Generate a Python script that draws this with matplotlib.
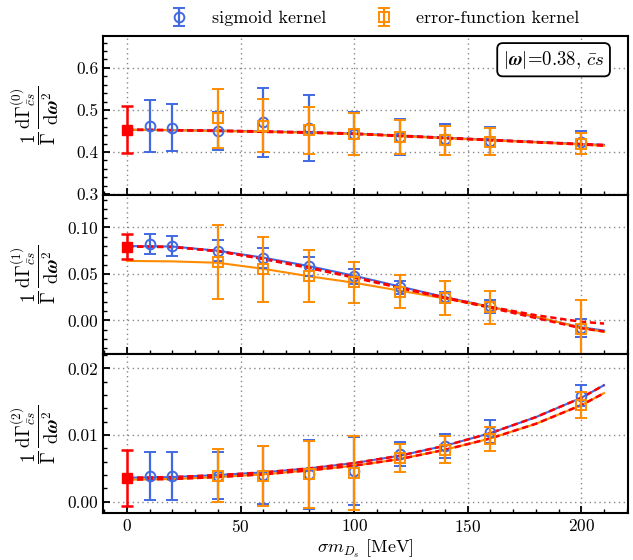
import numpy as np
import matplotlib
matplotlib.use("Agg")
import matplotlib.pyplot as plt
from matplotlib.ticker import MultipleLocator, FormatStrFormatter

plt.rcParams['font.family'] = 'serif'
plt.rcParams['font.serif'] = ['cmr10', 'DejaVu Serif']
plt.rcParams['mathtext.fontset'] = 'cm'
plt.rcParams['axes.formatter.use_mathtext'] = True
plt.rcParams['font.size'] = 12

# x positions
x_sig = [10, 20, 40, 60, 80, 100, 120, 140, 160, 200]
x_erf = [40, 60, 80, 100, 120, 140, 160, 200]
x_line = [0, 20, 40, 60, 80, 100, 120, 140, 160, 180, 200, 210]

# panel 0
sig0 = [0.462, 0.458, 0.451, 0.471, 0.457, 0.444, 0.436, 0.430, 0.427, 0.423]
sig0_err = [0.061, 0.056, 0.045, 0.082, 0.078, 0.050, 0.043, 0.037, 0.033, 0.028]
erf0 = [0.480, 0.463, 0.452, 0.442, 0.435, 0.428, 0.425, 0.420]
erf0_err = [0.070, 0.062, 0.056, 0.050, 0.040, 0.035, 0.032, 0.025]
ext0, ext0_err = 0.453, 0.056
sig0_line = [0.453, 0.452, 0.451, 0.449, 0.447, 0.444, 0.439, 0.434, 0.429, 0.424, 0.419, 0.417]
erf0_line = [0.453, 0.452, 0.450, 0.448, 0.446, 0.443, 0.438, 0.433, 0.428, 0.423, 0.418, 0.415]
red0_a = sig0_line
red0_b = erf0_line

# panel 1
sig1 = [0.082, 0.080, 0.075, 0.067, 0.058, 0.0475, 0.0357, 0.025, 0.015, -0.008]
sig1_err = [0.011, 0.011, 0.011, 0.0105, 0.010, 0.008, 0.007, 0.006, 0.007, 0.0095]
erf1 = [0.063, 0.055, 0.048, 0.041, 0.031, 0.024, 0.014, -0.009]
erf1_err = [0.040, 0.035, 0.028, 0.022, 0.018, 0.018, 0.018, 0.031]
ext1, ext1_err = 0.0793, 0.0135
sig1_line = [0.0800, 0.0795, 0.0750, 0.0675, 0.0585, 0.0480, 0.0365, 0.0250, 0.0145, 0.0035, -0.0075, -0.0110]
erf1_line = [0.0640, 0.0635, 0.0620, 0.0555, 0.0475, 0.0405, 0.0320, 0.0235, 0.0145, 0.0040, -0.0080, -0.0125]
red1_a = [0.0795, 0.0790, 0.0745, 0.0665, 0.0570, 0.0465, 0.0355, 0.0245, 0.0145, 0.0055, -0.0015, -0.0035]
red1_b = [0.0795, 0.0790, 0.0745, 0.0660, 0.0565, 0.0460, 0.0350, 0.0240, 0.0135, 0.0025, -0.0085, -0.0120]

# panel 2
sig2 = [0.0038, 0.0038, 0.0039, 0.0040, 0.0041, 0.0046, 0.0071, 0.0084, 0.0105, 0.0159]
sig2_err = [0.0036, 0.0036, 0.0035, 0.0043, 0.0052, 0.0051, 0.0018, 0.0018, 0.0017, 0.0016]
erf2 = [0.0039, 0.0039, 0.0041, 0.0043, 0.0065, 0.0078, 0.0094, 0.0145]
erf2_err = [0.0040, 0.0045, 0.0050, 0.0055, 0.0021, 0.0020, 0.0018, 0.0020]
ext2, ext2_err = 0.0035, 0.0042
sig2_line = [0.0036, 0.0037, 0.0040, 0.0044, 0.0050, 0.0058, 0.0069, 0.0084, 0.0103, 0.0127, 0.0156, 0.0175]
erf2_line = [0.0033, 0.0034, 0.0037, 0.0041, 0.0047, 0.0054, 0.0064, 0.0078, 0.0095, 0.0117, 0.0145, 0.0163]
red2_a = sig2_line
red2_b = erf2_line

blue = '#4169e1'
orange = '#ff8c00'

ylabels = [r'$\dfrac{1}{\Gamma}\,\dfrac{\mathrm{d}\Gamma^{(%d)}_{\bar{c}s}}{\mathrm{d}\boldsymbol{\omega}^2}$' % k for k in range(3)]
panels = [
    (sig0, sig0_err, erf0, erf0_err, ext0, ext0_err, sig0_line, erf0_line, red0_a, red0_b),
    (sig1, sig1_err, erf1, erf1_err, ext1, ext1_err, sig1_line, erf1_line, red1_a, red1_b),
    (sig2, sig2_err, erf2, erf2_err, ext2, ext2_err, sig2_line, erf2_line, red2_a, red2_b),
]
ylims = [(0.298, 0.676), (-0.0364, 0.135), (-0.00174, 0.02215)]
ymaj = [0.1, 0.05, 0.01]
ymin = [0.02, 0.01, 0.002]
yfmt = ['%.1f', '%.2f', '%.2f']

fig, axs = plt.subplots(3, 1, figsize=(6.33, 5.6), dpi=100, sharex=True)
fig.subplots_adjust(left=0.163, right=0.992, bottom=0.0834, top=0.936, hspace=0)

ekw = dict(capsize=4, elinewidth=1.6, capthick=1.6, markersize=7, mew=1.4, mfc='none', ls='none')
for i, ax in enumerate(axs):
    s, se, e, ee, x0, x0e, sl, el, ra, rb = panels[i]
    ax.plot(x_line, sl, color=blue, lw=1.5, zorder=2)
    ax.plot(x_line, el, color=orange, lw=1.5, zorder=2)
    ax.plot(x_line, ra, color='red', lw=1.8, ls=(0, (2.5, 1.5)), zorder=3)
    ax.plot(x_line, rb, color='red', lw=1.8, ls=(0, (2.5, 1.5)), zorder=3)
    h1 = ax.errorbar(x_sig, s, yerr=se, marker='o', color=blue, label='sigmoid kernel', zorder=4, **ekw)
    h2 = ax.errorbar(x_erf, e, yerr=ee, marker='s', color=orange, label='error-function kernel', zorder=5, **ekw)
    ax.errorbar([0], [x0], yerr=[x0e], marker='s', color='red', capsize=4, elinewidth=1.8,
                capthick=1.8, markersize=6.5, ls='none', zorder=6)
    ax.set_ylim(*ylims[i])
    ax.yaxis.set_major_locator(MultipleLocator(ymaj[i]))
    ax.yaxis.set_minor_locator(MultipleLocator(ymin[i]))
    ax.yaxis.set_major_formatter(FormatStrFormatter(yfmt[i]))
    ax.xaxis.set_major_locator(MultipleLocator(50))
    ax.xaxis.set_minor_locator(MultipleLocator(10))
    ax.tick_params(which='both', direction='in', labelsize=12.5)
    ax.tick_params(which='major', length=5, width=1.3)
    ax.tick_params(which='minor', length=3, width=1)
    ax.grid(True, ls=(0, (1, 2.5)), color='#888888', lw=1)
    for sp in ax.spines.values():
        sp.set_linewidth(1.5)
    ax.set_ylabel(ylabels[i], fontsize=13.5)
    ax.yaxis.set_label_coords(-0.08, 0.5)

axs[2].set_xlim(-10.5, 220.5)
axs[2].set_xlabel(r'$\sigma m_{D_s}$ [MeV]', fontsize=13, labelpad=2)

axs[0].text(0.955, 0.85, r'$|\boldsymbol{\omega}|$=0.38, $\bar{c}s$', transform=axs[0].transAxes,
            ha='right', va='center', fontsize=13.5,
            bbox=dict(boxstyle='round,pad=0.3', fc='white', ec='black', lw=1.3))

fig.legend(handles=[h1, h2], loc='upper center', bbox_to_anchor=(0.585, 1.01), ncol=2,
           frameon=False, fontsize=13, columnspacing=2.2)

fig.savefig('out.png', dpi=100)
